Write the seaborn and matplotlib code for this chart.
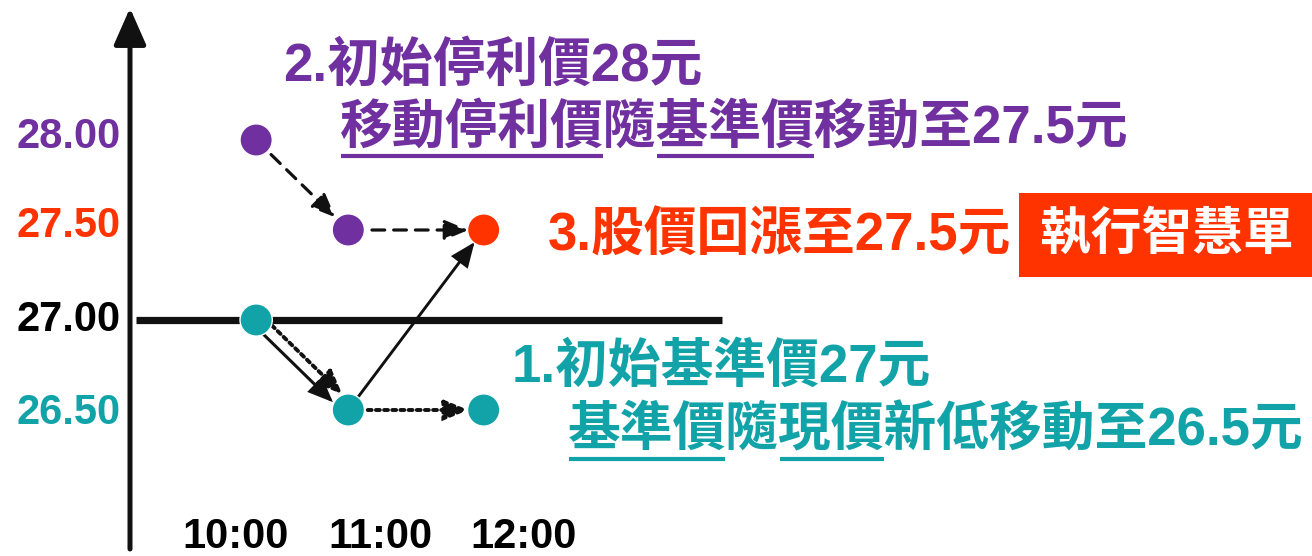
import matplotlib
matplotlib.use('Agg')
import matplotlib.pyplot as plt
import seaborn as sns
import pandas as pd
from matplotlib.patches import Rectangle
from matplotlib.transforms import offset_copy

# ---------------- data ----------------
point_hours = [10.14, 10.78, 11.72]          # x position of the three columns of points (hours)
stop_prices = [28.0, 27.5]                   # purple: trailing stop price
trigger_price = [27.5]                       # orange: execution at 12:00
base_prices = [27.0, 26.5, 26.5]             # teal: base price
tick_hours = [10, 11, 12]
tick_labels = ['10:00', '11:00', '12:00']
price_ticks = [28.0, 27.5, 27.0, 26.5]
price_labels = ['28.00', '27.50', '27.00', '26.50']
ref_price = 27.0

text_step2 = ['2.初始停利價28元', '移動停利價隨基準價移動至27.5元']
text_step3 = '3.股價回漲至27.5元'
box_text = '執行智慧單'
text_step1 = ['1.初始基準價27元', '基準價隨現價新低移動至26.5元']

# ---------------- styles ----------------
PURPLE = '#7030A0'
ORANGE = '#FF3300'
TEAL = '#12A3A8'
label_colors = [PURPLE, ORANGE, 'black', TEAL]

sns.set_theme(style='white')
plt.rcParams['font.family'] = ['Liberation Sans', 'Noto Sans CJK TC', 'DejaVu Sans']

W, H = 1312, 556
fig = plt.figure(figsize=(W / 100, H / 100), dpi=100)
ax = fig.add_axes([0, 0, 1, 1])
ax.set_axis_off()

# pixel <-> data mapping (pixel y from top)
X0, XS = 236, 144.0   # 10:00 at px 236, 144 px per hour
Y0, YS = 320, 180.0   # 27.00 at px 320, 180 px per unit
def px2x(px):
    return 10 + (px - X0) / XS
def px2y(py):
    return 27 - (py - Y0) / YS

# ---------------- points ----------------
df = pd.DataFrame({
    'time': point_hours[:2] + point_hours[2:] + point_hours,
    'price': stop_prices + trigger_price + base_prices,
    'series': ['stop'] * 2 + ['trigger'] + ['base'] * 3,
})
sns.scatterplot(data=df, x='time', y='price', hue='series',
                palette={'stop': PURPLE, 'trigger': ORANGE, 'base': TEAL},
                s=540, edgecolor='white', linewidth=1.0, legend=False,
                ax=ax, zorder=5)
ax.set_xlim(px2x(0), px2x(W))
ax.set_ylim(px2y(H), px2y(0))
ax.set_axis_off()

# ---------------- axes drawn as arrows ----------------
ax.annotate('', xy=(px2x(130), px2y(8)), xytext=(px2x(130), px2y(549)),
            arrowprops=dict(arrowstyle='-|>,head_length=1.25,head_width=0.55',
                            lw=3.6, color='#111111', mutation_scale=18,
                            shrinkA=0, shrinkB=0), zorder=2)
ax.plot([px2x(136), px2x(722)], [ref_price, ref_price], color='#111111', lw=5.2,
        solid_capstyle='butt', zorder=2)

# ---------------- connecting arrows ----------------
def arrow(p0, p1, ls='-', lw=1.9, sa=11, sb=11, off=(0, 0)):
    tr = offset_copy(ax.transData, fig=fig, x=off[0], y=off[1], units='dots')
    ax.annotate('', xy=p1, xytext=p0, xycoords=tr, textcoords=tr,
                arrowprops=dict(arrowstyle='-|>,head_length=1.2,head_width=0.5',
                                lw=lw, ls=ls, color='#111111', mutation_scale=12,
                                shrinkA=sa, shrinkB=sb, joinstyle='miter'),
                zorder=4)

P_s0 = (point_hours[0], stop_prices[0])
P_s1 = (point_hours[1], stop_prices[1])
P_t = (point_hours[2], trigger_price[0])
P_b0 = (point_hours[0], base_prices[0])
P_b1 = (point_hours[1], base_prices[1])
P_b2 = (point_hours[2], base_prices[2])

dash = (0, (4.0, 2.8))
dot = (0, (1, 1.1))
arrow(P_s0, P_s1, ls=dash, lw=2.3, sa=15, sb=13)
arrow(P_s1, P_t, ls=dash, lw=2.3, sa=17, sb=11)
arrow(P_b0, P_b1, ls='-', lw=2.2, sa=10, sb=12, off=(-3.5, -3.8))
arrow(P_b0, P_b1, ls=dot, lw=2.8, sa=11, sb=11, off=(4.8, 5.2))
arrow(P_b1, P_b2, ls=dot, lw=2.8, sa=14, sb=11)
arrow(P_b1, P_t, ls='-', lw=2.1, sa=11, sb=11)

# ---------------- tick labels ----------------
num_font = dict(family=['Liberation Sans', 'DejaVu Sans'], fontweight='bold', fontsize=30)
label_ypx = [137, 226, 320, 413]
for lab, col, ypx in zip(price_labels, label_colors, label_ypx):
    ax.text(px2x(121), px2y(ypx), lab, color=col, ha='right', va='center', **num_font)
for h, lab in zip(tick_hours, tick_labels):
    ax.text(h, px2y(537), lab, color='black', ha='center', va='center', **num_font)

# ---------------- annotation texts ----------------
cjk = dict(family=['Liberation Sans', 'Noto Sans CJK TC', 'DejaVu Sans'],
           fontweight='bold', fontsize=38)
renderer = fig.canvas.get_renderer()

def text_width(s):
    t = ax.text(0, 0, s, **cjk)
    w = t.get_window_extent(renderer).width
    t.remove()
    return w

def label(xpx, ypx, s, color, spans=()):
    t = ax.text(px2x(xpx), px2y(ypx), s, color=color, ha='left', va='center', **cjk)
    bb = t.get_window_extent(renderer)
    inv = ax.transData.inverted()
    uy = H - (ypx + 28)
    for i, j in spans:
        xa = bb.x0 + (text_width(s[:i]) if i > 0 else 0) + 1
        xb = bb.x0 + text_width(s[:j]) - 1
        (dx0, dy0), (dx1, dy1) = inv.transform([(xa, uy), (xb, uy)])
        ax.plot([dx0, dx1], [dy0, dy1], color=color, lw=3.0, solid_capstyle='butt')
    return t

label(283, 67, text_step2[0], PURPLE)
label(340, 128, text_step2[1], PURPLE, spans=[(0, 5), (6, 9)])
label(548, 236, text_step3, ORANGE)
label(512, 368, text_step1[0], TEAL)
label(568, 431, text_step1[1], TEAL, spans=[(0, 3), (4, 6)])

ax.add_patch(Rectangle((px2x(1019), px2y(277)), px2x(1312) - px2x(1019),
                       px2y(193) - px2y(277), facecolor=ORANGE, edgecolor='none', zorder=1))
ax.text(px2x(1167), px2y(235), box_text, color='white', ha='center', va='center',
        **dict(cjk, fontsize=36.5))

fig.savefig('out.png', dpi=100)
